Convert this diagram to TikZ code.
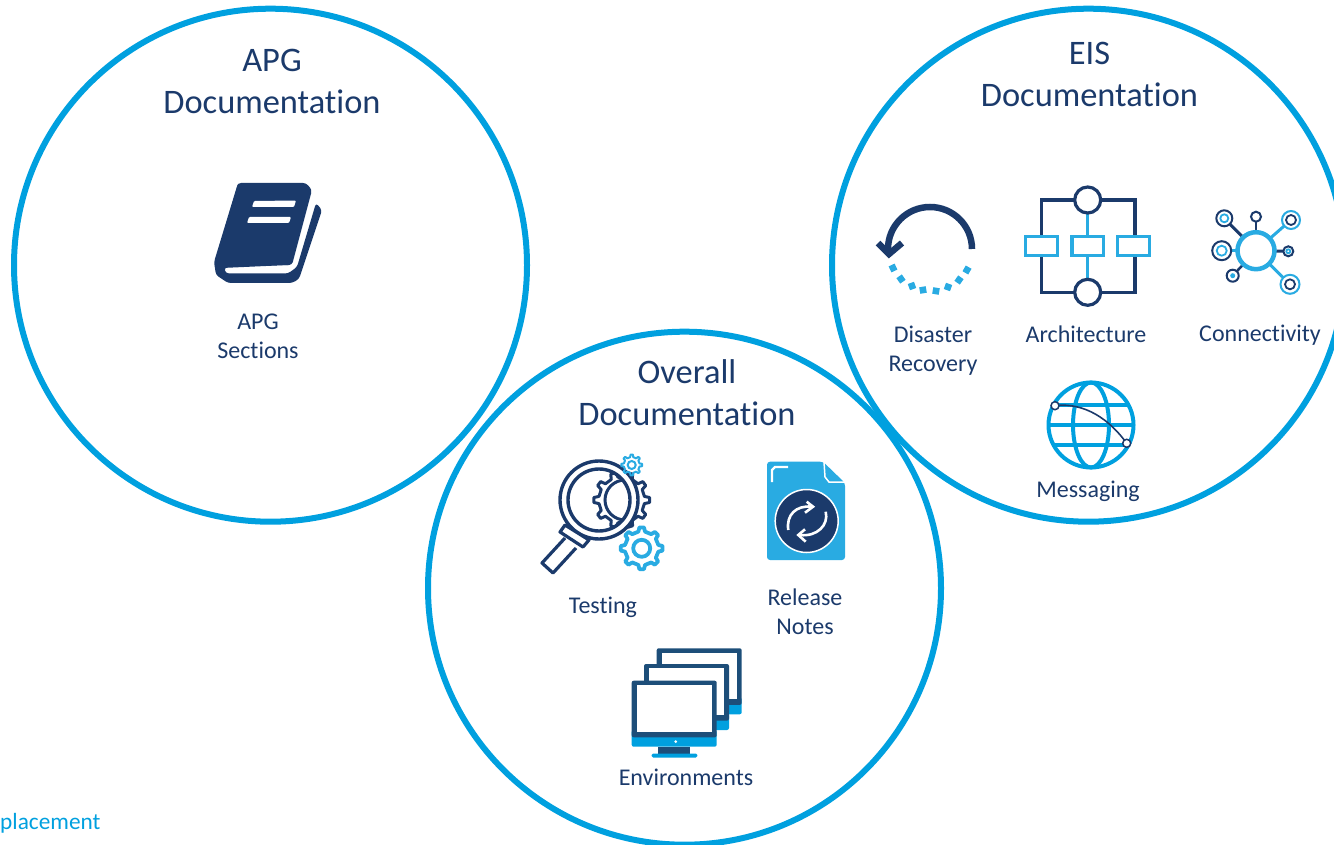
\documentclass[tikz,border=0pt]{standalone}
\usepackage{fontspec}
\setmainfont{Carlito}[Ligatures=NoCommon]
\usepackage{tikz}

\definecolor{docblue}{HTML}{00A0DF}
\definecolor{docnavy}{HTML}{1B3A6B}
\definecolor{iconcyan}{HTML}{29ABE2}
\definecolor{framenavy}{HTML}{1D4E79}

\tikzset{
    doccircle/.style={circle,draw=docblue,line width=6pt,minimum size=513pt,inner sep=0pt},
    titletext/.style={align=center,text=docnavy,font=\fontsize{34.4}{42}\selectfont},
    labeltext/.style={align=center,text=docnavy,font=\fontsize{24}{29}\selectfont}
}

% gear outline: options, centre x, centre y, outer r, root r, number of teeth
\newcommand{\gearicon}[6]{
    \pgfmathsetmacro{\gearstep}{360/#6}
    \pgfmathsetmacro{\gearlast}{360-\gearstep}
    \pgfmathsetmacro{\gearnext}{\gearstep}
    \draw [#1,shift={(#2,#3)},line join=round] (-0.25*\gearstep:#5)
        \foreach \a in {0,\gearnext,...,\gearlast} {
            -- ({\a-0.25*\gearstep}:#5) -- ({\a-0.14*\gearstep}:#4)
            -- ({\a+0.14*\gearstep}:#4) -- ({\a+0.25*\gearstep}:#5)
        } -- cycle;
}

\begin{document}
\begin{tikzpicture}[x=1pt,y=-1pt]
    \useasboundingbox (0,0) rectangle (1334,845);
    \clip (0,0) rectangle (1334,845);

    \node (apgcircle) [doccircle] at (270.5,265.2) {};
    \node (eiscircle) [doccircle] at (1088.5,265.2) {};
    \node (overallcircle) [doccircle] at (684.5,588.2) {};

    \node (apgtitle) [titletext] at (272,81.5) {APG\\Documentation};
    \node (eistitle) [titletext] at (1089.5,74.5) {EIS\\Documentation};
    \node (overalltitle) [titletext] at (687,393) {Overall\\Documentation};

    \node (apglabel) [labeltext] at (258,336) {APG\\Sections};
    \node (drlabel) [labeltext] at (933,351) {Disaster\\Recovery};
    \node (archlabel) [labeltext] at (1086,334.5) {Architecture};
    \node (connlabel) [labeltext] at (1260,335.5) {Connectivity};
    \node (msglabel) [labeltext] at (1088,491.5) {Messaging};
    \node (testlabel) [labeltext] at (603,607.5) {Testing};
    \node (relabel) [labeltext] at (805,612) {Release\\Notes};
    \node (envlabel) [labeltext] at (686,777.5) {Environments};
    \node (placelabel) [text=docblue,anchor=west,inner sep=0pt,font=\fontsize{23.3}{29}\selectfont] at (0,823.5) {placement};

    % book
    \fill [docnavy,rounded corners=3pt] (238,183) -- (306,183) -- (312,190) -- (292,265)
        -- (232,266) -- (224,268) -- (226,273.5) -- (288,273.5) -- (297,267) -- (316,203)
        -- (322,210) -- (299,279) -- (292,283) -- (228,283) -- (216,275) -- (214,262) -- cycle;
    \fill [docnavy] (238,184) -- (300,184) -- (288,265) -- (222,268) -- (215,262) -- cycle;
    \fill [white,rounded corners=1pt] (254,201) -- (296,200.5) -- (294,207) -- (252,207) -- cycle;
    \fill [white,rounded corners=1pt] (249,217) -- (291,217) -- (289,223) -- (247,223) -- cycle;

    % disaster recovery
    \draw [docnavy,line width=6.5pt] (972,249) arc [start angle=0,end angle=-180,radius=42] -- (889,254);
    \draw [docnavy,line width=6.5pt] (878,243) -- (889,254) -- (902,243);
    \foreach \x/\y/\a in {893/268/25,901/279/35,912/286/20,923/290/10,936/291/-10,948/287/-20,959/280/-35,967/270/-30}
        \fill [iconcyan,rotate around={\a:(\x,\y)}] (\x-3.3,\y-3.3) rectangle (\x+3.3,\y+3.3);

    % architecture
    \draw [docnavy,line width=3.2pt] (1041.7,200) rectangle (1135,292.3);
    \draw [iconcyan,line width=3pt] (1087.7,200) -- (1087.7,292.3);
    \draw [docnavy,line width=3.2pt,fill=white] (1087.7,200) circle [radius=13];
    \draw [docnavy,line width=3.2pt,fill=white] (1087.7,292.3) circle [radius=13];
    \foreach \x in {1025.7,1072,1117.7}
        \draw [iconcyan,line width=3.4pt,fill=white] (\x,236.7) rectangle (\x+31.5,255.7);

    % connectivity
    \draw [docnavy,line width=3pt] (1256,250.7) -- (1224.3,218.3);
    \draw [docnavy,line width=2.5pt] (1256,250.7) -- (1256,216.7);
    \draw [iconcyan,line width=3pt] (1256,250.7) -- (1291,220);
    \draw [iconcyan,line width=2.5pt] (1256,250.7) -- (1221.7,250.7);
    \draw [docnavy,line width=3pt] (1256,250.7) -- (1288.3,251.3);
    \draw [docnavy,line width=2.5pt] (1256,250.7) -- (1232.7,275.7);
    \draw [iconcyan,line width=3pt] (1256,250.7) -- (1290,284.3);
    \draw [iconcyan,line width=4.5pt,fill=white] (1256,250.7) circle [radius=18.5];
    \foreach \x/\y/\ro/\ri/\co/\ci in {1224.3/218.3/8/4/docnavy/iconcyan,1291/220/9/5/iconcyan/docnavy,
        1221.7/250.7/9.5/5/docnavy/iconcyan,1290/284.3/9.5/5/iconcyan/docnavy,1288.3/251.3/5/2/docnavy/iconcyan} {
        \draw [draw=\co,line width=2pt,fill=white] (\x,\y) circle [radius=\ro];
        \draw [draw=\ci,line width=1.8pt] (\x,\y) circle [radius=\ri];
    }
    \draw [docnavy,line width=2pt,fill=white] (1256,216.7) circle [radius=5];
    \draw [docnavy,line width=2pt,fill=white] (1232.7,275.7) circle [radius=6];
    \fill [iconcyan] (1232.7,275.7) circle [radius=2.5];

    % messaging
    \draw [docblue,line width=4pt] (1091,425) circle [radius=42.5];
    \draw [docblue,line width=4pt] (1091,425) ellipse [x radius=18,y radius=42.5];
    \draw [docblue,line width=3.5pt] (1055,405) -- (1127,405);
    \draw [docblue,line width=3.5pt] (1048,425) -- (1134,425);
    \draw [docblue,line width=3.5pt] (1055,445) -- (1127,445);
    \draw [docnavy,line width=1.6pt] (1055,405.7) .. controls (1085,402) and (1110,420) .. (1126.7,443.3);
    \draw [docnavy,line width=1.5pt,fill=white] (1055,405.7) circle [radius=4];
    \draw [docnavy,line width=1.5pt,fill=white] (1126.7,443.3) circle [radius=4];

    % testing
    \gearicon{docnavy,line width=3pt}{621.7}{500}{28}{23}{10}
    \begin{scope}
        \clip (599,500) circle [radius=32];
        \draw [docnavy,line width=3pt] (625,500) circle [radius=20];
    \end{scope}
    \fill [white,even odd rule] (599,500) circle [radius=32] (599,500) circle [radius=39];
    \draw [docnavy,line width=3.4pt] (599,500) circle [radius=39];
    \draw [docnavy,line width=3.4pt] (599,500) circle [radius=31];
    \draw [docnavy,line width=3.2pt,line join=round,fill=white] (565,525) -- (560,532) -- (583,547) -- (589,540) -- cycle;
    \draw [docnavy,line width=3.2pt,line join=round] (565,538) -- (542,563) -- (553,573) -- (576,548);
    \gearicon{iconcyan,line width=2pt}{631.7}{465}{10.5}{8}{8}
    \draw [iconcyan,line width=2pt] (631.7,465) circle [radius=4];
    \gearicon{iconcyan,line width=3.8pt}{641.7}{548.3}{21}{17}{8}
    \draw [iconcyan,line width=3.8pt] (641.7,548.3) circle [radius=8.5];

    % release notes
    \fill [iconcyan,rounded corners=3pt] (767,461.7) -- (823,461.7) -- (845,483) -- (845,560) -- (767,560) -- cycle;
    \draw [white,line width=1.5pt] (824,462) -- (825,477) -- (829,482) -- (845,482);
    \draw [white,line width=2.4pt] (772,482) -- (772,470) -- (775,467) -- (788,467);
    \draw [white,line width=1.5pt,fill=docnavy] (806.7,521) circle [radius=31.5];
    \draw [white,line width=2.6pt] (788.3,530) .. controls (786,515) and (796,505) .. (812,506.7);
    \draw [white,line width=2.6pt] (806.7,501.7) -- (813,506.7) -- (805,512.7);
    \draw [white,line width=2.6pt] (825.7,511.7) .. controls (829,525) and (817,537) .. (800,535);
    \draw [white,line width=2.6pt] (805,529.3) -- (798.3,535) -- (805.7,541.7);

    % environments
    \foreach \dx/\dy in {25/-32.4,12.3/-16.7,0/0} {
        \fill [docblue,rounded corners=2pt] (631.7+\dx,730+\dy) rectangle (716.7+\dx,746.7+\dy);
        \fill [framenavy,rounded corners=2pt] (631.7+\dx,680.7+\dy) rectangle (716.7+\dx,737.3+\dy);
        \fill [white] (636.7+\dx,685+\dy) rectangle (711.7+\dx,731.7+\dy);
    }
    \fill [white] (675.7,741.7) circle [radius=1.5];
    \fill [framenavy] (658.3,746.7) rectangle (690,754);
    \fill [docblue,rounded corners=1.5pt] (651.7,753.5) rectangle (697.3,757.5);
\end{tikzpicture}
\end{document}
